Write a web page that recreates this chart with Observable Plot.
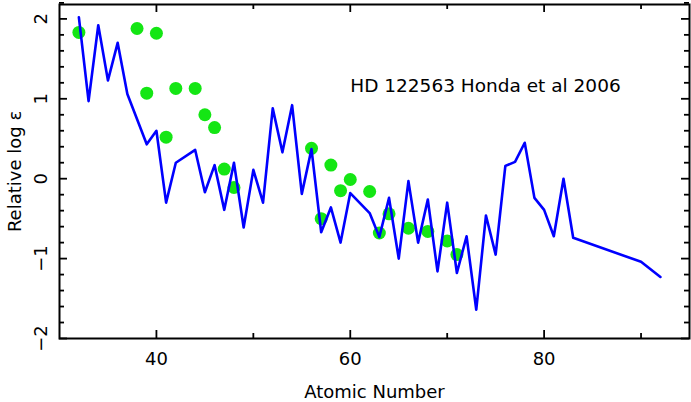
<!DOCTYPE html>
<html><head><meta charset="utf-8">
<script src="https://cdn.jsdelivr.net/npm/d3@7"></script>
<script src="https://cdn.jsdelivr.net/npm/@observablehq/plot@0.6"></script>
<style>body{margin:0;background:#fff} svg{display:block}</style>
</head><body><div id="chart"></div>
<script>
// Model line (atomic number, relative log eps)
const lineZ = [32,33,34,35,36,37,39,40,41,42,44,45,46,47,48,49,50,51,52,53,54,55,56,57,58,59,60,62,63,64,65,66,67,68,69,70,71,72,73,74,75,76,77,78,79,80,81,82,83,90,92];
const lineVal = [2.02,0.97,1.92,1.23,1.70,1.06,0.43,0.60,-0.30,0.20,0.36,-0.17,0.17,-0.39,0.20,-0.61,0.11,-0.30,0.88,0.33,0.92,-0.19,0.37,-0.67,-0.36,-0.80,-0.18,-0.43,-0.73,-0.24,-1.00,-0.03,-0.80,-0.26,-1.16,-0.30,-1.18,-0.72,-1.64,-0.46,-0.95,0.16,0.21,0.45,-0.24,-0.39,-0.72,0.00,-0.74,-1.04,-1.23];
// Observed abundances (green dots)
const dotZ = [32,38,39,40,41,42,44,45,46,47,48,56,57,58,59,60,62,63,64,66,68,70,71];
const dotVal = [1.83,1.88,1.07,1.82,0.52,1.13,1.13,0.80,0.64,0.12,-0.11,0.38,-0.50,0.17,-0.15,-0.01,-0.16,-0.68,-0.44,-0.62,-0.66,-0.78,-0.95];

const xMajorTicks = [40,60,80];
const xMinorTicks = [50,70,90];
const yMajorTicks = [-2,-1,0,1,2];
const yMinorTicks = [-1.8,-1.6,-1.4,-1.2,-0.8,-0.6,-0.4,-0.2,0.2,0.4,0.6,0.8,1.2,1.4,1.6,1.8,2.2];

const titleText = "HD 122563 Honda et al 2006";
const xLabel = "Atomic Number";
const yLabel = "Relative log ε";

const lineData = lineZ.map((z, i) => ({z, v: lineVal[i]}));
const dotData = dotZ.map((z, i) => ({z, v: dotVal[i]}));
const fmt = d => d < 0 ? "\u2212" + Math.abs(d) : String(d);

const W = 691, H = 402, mL = 59, mR = 2, mT = 4, mB = 64;
const fw = W - mL - mR, fh = H - mT - mB;
const tickStyle = {stroke: "black", strokeWidth: 1.8};
// inward ticks on all four sides, as short rules through the scales
const xTicks = (ticks, len) => [
  Plot.ruleX(ticks, {x: d => d, insetTop: fh - len, ...tickStyle}),
  Plot.ruleX(ticks, {x: d => d, insetBottom: fh - len, ...tickStyle})
];
const yTicks = (ticks, len) => [
  Plot.ruleY(ticks, {y: d => d, insetRight: fw - len, ...tickStyle}),
  Plot.ruleY(ticks, {y: d => d, insetLeft: fw - len, ...tickStyle})
];

const chart = Plot.plot({
  width: W, height: H,
  marginLeft: mL, marginRight: mR, marginTop: mT, marginBottom: mB,
  style: {fontFamily: "DejaVu Sans", fontSize: "18px", color: "black", background: "white"},
  x: {domain: [30, 95], axis: null},
  y: {domain: [-2, 2.18], axis: null},
  marks: [
    Plot.dot(dotData, {x: "z", y: "v", r: 6.5, fill: "#14e614"}),
    Plot.line(lineData, {x: "z", y: "v", stroke: "#0000ff", strokeWidth: 2.6}),
    ...xTicks(xMajorTicks, 8),
    ...xTicks(xMinorTicks, 5),
    ...yTicks(yMajorTicks, 8),
    ...yTicks(yMinorTicks, 5),
    Plot.frame({stroke: "black", strokeWidth: 2}),
    Plot.text(xMajorTicks, {x: d => d, frameAnchor: "bottom", dy: 21, lineAnchor: "middle", text: fmt, fontSize: 18}),
    Plot.text(yMajorTicks, {y: d => d, frameAnchor: "left", dx: -18, rotate: -90, textAnchor: "middle", lineAnchor: "middle", text: fmt, fontSize: 18}),
    Plot.text([xLabel], {frameAnchor: "bottom", dy: 54, lineAnchor: "middle", text: d => d, fontSize: 18}),
    Plot.text([yLabel], {frameAnchor: "left", dx: -44, rotate: -90, textAnchor: "middle", lineAnchor: "middle", text: d => d, fontSize: 18}),
    Plot.text([titleText], {x: 60, y: 1.16, textAnchor: "start", lineAnchor: "middle", text: d => d, fontSize: 18.5})
  ]
});
document.getElementById("chart").appendChild(chart);
</script>
</body></html>
